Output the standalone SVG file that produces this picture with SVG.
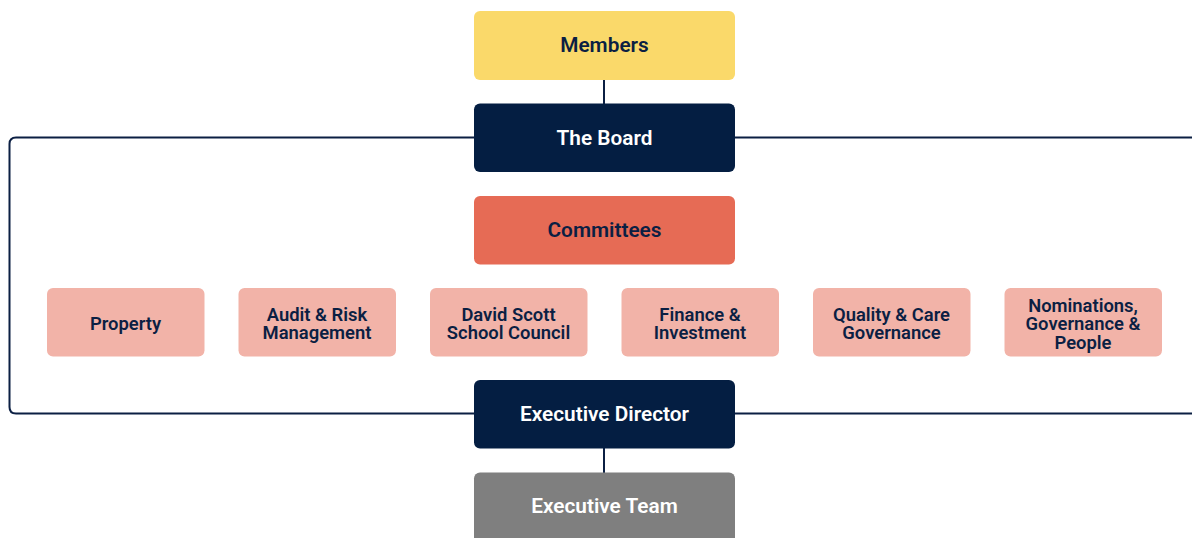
<svg xmlns="http://www.w3.org/2000/svg" width="1192" height="538" viewBox="0 0 1192 538">
  <style>
    .box { stroke: none; }
    .lbl { font-family: Roboto, "Liberation Sans", Arial, sans-serif; font-weight: 600; text-anchor: middle; dominant-baseline: central; }
    .big { font-size: 20.8px; }
    .small { font-size: 18.4px; }
    .dark { fill: #0b1f43; }
    .light { fill: #ffffff; }
    .wire { fill: none; stroke: #0b1f43; stroke-width: 2; }
    .committee rect { fill: #f2b3a8; }
  </style>

  <!-- connectors -->
  <g id="connectors">
    <line class="wire" x1="604" y1="80" x2="604" y2="104"/>
    <line class="wire" x1="604" y1="448" x2="604" y2="473"/>
    <path class="wire" d="M474,137.5 H16 Q9.5,137.5 9.5,144 V407 Q9.5,413.5 16,413.5 H474"/>
    <line class="wire" x1="735" y1="137.5" x2="1192" y2="137.5"/>
    <line class="wire" x1="735" y1="413.5" x2="1192" y2="413.5"/>
  </g>

  <g id="members">
    <rect class="box" x="474" y="11" width="261" height="69" rx="6" fill="#fad96a"/>
    <text class="lbl big dark" x="604.5" y="45">Members</text>
  </g>

  <g id="board">
    <rect class="box" x="474" y="103.5" width="261" height="68.5" rx="6" fill="#041e42"/>
    <text class="lbl big light" x="604.5" y="137.5">The Board</text>
  </g>

  <g id="committees">
    <rect class="box" x="474" y="196" width="261" height="68.5" rx="6" fill="#e66b55"/>
    <text class="lbl big dark" x="604.5" y="229.5">Committees</text>
  </g>

  <g id="property" class="committee">
    <rect x="47" y="288" width="157.5" height="68.5" rx="6"/>
    <text class="lbl small dark" x="125.5" y="323">Property</text>
  </g>

  <g id="audit-risk" class="committee">
    <rect x="238.5" y="288" width="157.5" height="68.5" rx="6"/>
    <text class="lbl small dark" x="317" y="314">Audit &amp; Risk</text>
    <text class="lbl small dark" x="317" y="332.5">Management</text>
  </g>

  <g id="school-council" class="committee">
    <rect x="430" y="288" width="157.5" height="68.5" rx="6"/>
    <text class="lbl small dark" x="508.5" y="314">David Scott</text>
    <text class="lbl small dark" x="508.5" y="332.5">School Council</text>
  </g>

  <g id="finance" class="committee">
    <rect x="621.5" y="288" width="157.5" height="68.5" rx="6"/>
    <text class="lbl small dark" x="700" y="314">Finance &amp;</text>
    <text class="lbl small dark" x="700" y="332.5">Investment</text>
  </g>

  <g id="quality-care" class="committee">
    <rect x="813" y="288" width="157.5" height="68.5" rx="6"/>
    <text class="lbl small dark" x="891.5" y="314">Quality &amp; Care</text>
    <text class="lbl small dark" x="891.5" y="332.5">Governance</text>
  </g>

  <g id="nominations" class="committee">
    <rect x="1004.5" y="288" width="157.5" height="68.5" rx="6"/>
    <text class="lbl small dark" x="1083" y="305">Nominations,</text>
    <text class="lbl small dark" x="1083" y="323.5">Governance &amp;</text>
    <text class="lbl small dark" x="1083" y="342">People</text>
  </g>

  <g id="executive-director">
    <rect class="box" x="474" y="380" width="261" height="68.5" rx="6" fill="#041e42"/>
    <text class="lbl big light" x="604.5" y="413.5">Executive Director</text>
  </g>

  <g id="executive-team">
    <rect class="box" x="474" y="472.5" width="261" height="80" rx="6" fill="#7f7f7f"/>
    <text class="lbl big light" x="604.5" y="505.5">Executive Team</text>
  </g>
</svg>
